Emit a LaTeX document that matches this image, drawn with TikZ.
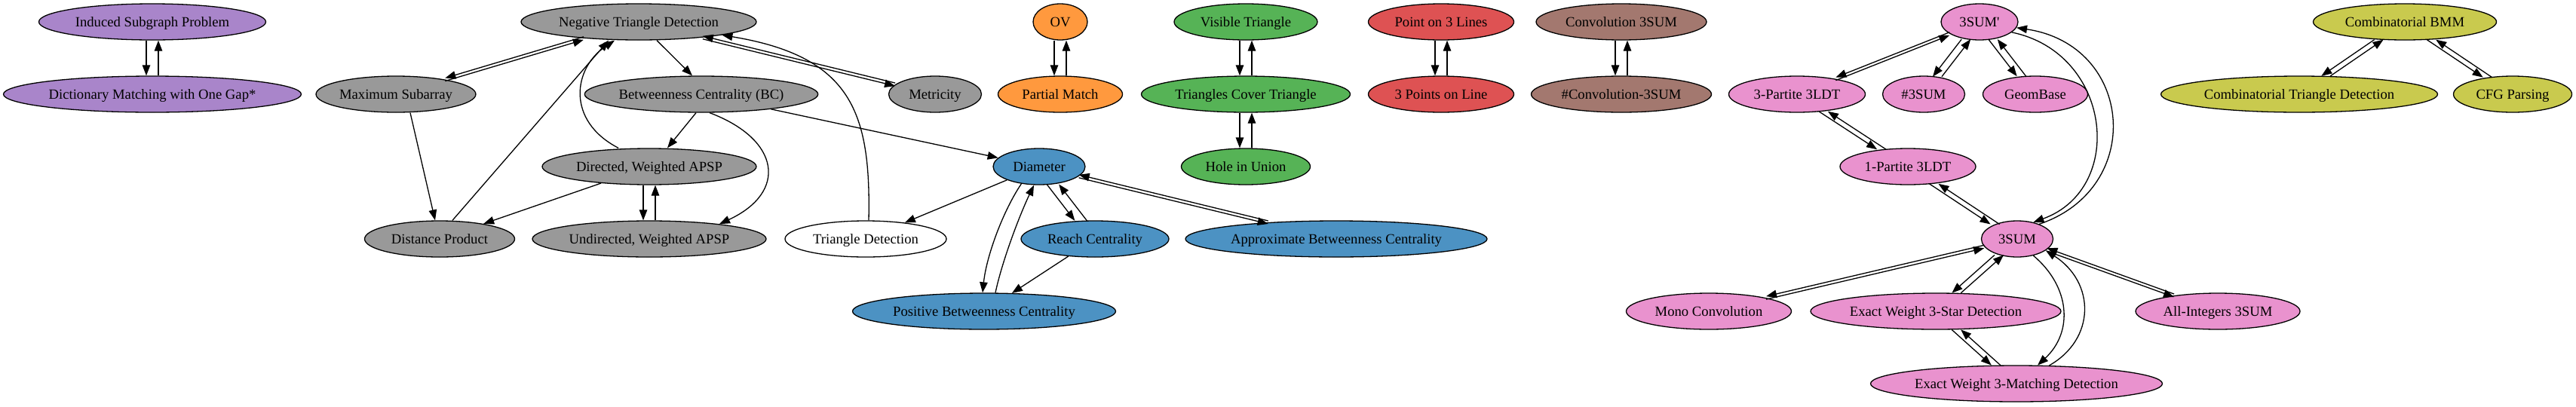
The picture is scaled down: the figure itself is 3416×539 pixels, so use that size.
\documentclass[tikz,border=0pt]{standalone}
\usepackage{fontspec}
\setmainfont{Liberation Serif}
\usetikzlibrary{shapes.geometric,arrows.meta}
\definecolor{cpurple}{RGB}{169,133,202}
\definecolor{cgray}{RGB}{153,153,153}
\definecolor{cblue}{RGB}{76,146,195}
\definecolor{corange}{RGB}{255,153,62}
\definecolor{cgreen}{RGB}{86,179,86}
\definecolor{cred}{RGB}{222,82,83}
\definecolor{cbrown}{RGB}{163,120,111}
\definecolor{cpink}{RGB}{233,146,206}
\definecolor{colive}{RGB}{201,202,78}
\begin{document}
\begin{tikzpicture}[x=1pt,y=-1pt,
 nd/.style={ellipse,draw=black,line width=1.3pt,inner sep=0pt,minimum height=48pt,
   text height=17pt,text depth=4pt,font=\fontsize{18.67pt}{22pt}\selectfont},
 ed/.style={-{Triangle[length=14pt,width=10.5pt]},line width=1.3pt},
 shx/.style={transform canvas={xshift=#1}},
 shy/.style={transform canvas={yshift=#1}}]
\useasboundingbox (0,0) rectangle (3416,539);
% purple
\node[nd,fill=cpurple,minimum width=301pt] (isp) at (202,29) {Induced Subgraph Problem};
\node[nd,fill=cpurple,minimum width=395pt] (dmg) at (202,125) {Dictionary Matching with One Gap*};
% gray
\node[nd,fill=cgray,minimum width=312pt] (ntd) at (847,29) {Negative Triangle Detection};
\node[nd,fill=cgray,minimum width=201pt] (msa) at (525,125) {Maximum Subarray};
\node[nd,fill=cgray,minimum width=288pt] (bc) at (930,125) {Betweenness Centrality (BC)};
\node[nd,fill=cgray,minimum width=123pt] (met) at (1240,125) {Metricity};
\node[nd,fill=cgray,minimum width=284pt] (dwa) at (861,221) {Directed, Weighted APSP};
\node[nd,fill=cgray,minimum width=199pt] (dp) at (583,317) {Distance Product};
\node[nd,fill=cgray,minimum width=310pt] (uwa) at (861,317) {Undirected, Weighted APSP};
\node[nd,fill=white,minimum width=214pt] (td) at (1148,317) {Triangle Detection};
% blue
\node[nd,fill=cblue,minimum width=122pt] (dia) at (1378,221) {Diameter};
\node[nd,fill=cblue,minimum width=196pt] (rc) at (1452,317) {Reach Centrality};
\node[nd,fill=cblue,minimum width=400pt] (abc) at (1772,317) {Approximate Betweenness Centrality};
\node[nd,fill=cblue,minimum width=349pt] (pbc) at (1305,413) {Positive Betweenness Centrality};
% orange, green, red, brown
\node[nd,fill=corange,minimum width=72pt] (ov) at (1406,29) {OV};
\node[nd,fill=corange,minimum width=165pt] (pm) at (1406,125) {Partial Match};
\node[nd,fill=cgreen,minimum width=190pt] (vt) at (1652,29) {Visible Triangle};
\node[nd,fill=cgreen,minimum width=277pt] (tct) at (1652,125) {Triangles Cover Triangle};
\node[nd,fill=cgreen,minimum width=171pt] (hiu) at (1652,221) {Hole in Union};
\node[nd,fill=cred,minimum width=193pt] (ptl) at (1911,29) {Point on 3 Lines};
\node[nd,fill=cred,minimum width=193pt] (tpl) at (1911,125) {3 Points on Line};
\node[nd,fill=cbrown,minimum width=226pt] (cts) at (2150,29) {Convolution 3SUM};
\node[nd,fill=cbrown,minimum width=239pt] (ncts) at (2150,125) {\#Convolution-3SUM};
% pink
\node[nd,fill=cpink,minimum width=102pt] (sp) at (2625,29) {3SUM\textquotesingle};
\node[nd,fill=cpink,minimum width=181pt] (tp) at (2383,125) {3-Partite 3LDT};
\node[nd,fill=cpink,minimum width=109pt] (ns) at (2551,125) {\#3SUM};
\node[nd,fill=cpink,minimum width=139pt] (gb) at (2699,125) {GeomBase};
\node[nd,fill=cpink,minimum width=180pt] (op) at (2530,221) {1-Partite 3LDT};
\node[nd,fill=cpink,minimum width=95pt] (tsum) at (2675,317) {3SUM};
\node[nd,fill=cpink,minimum width=219pt] (mc) at (2266,413) {Mono Convolution};
\node[nd,fill=cpink,minimum width=332pt] (es) at (2567,413) {Exact Weight 3-Star Detection};
\node[nd,fill=cpink,minimum width=218pt] (ai) at (2941,413) {All-Integers 3SUM};
\node[nd,fill=cpink,minimum width=387pt] (em) at (2674,509) {Exact Weight 3-Matching Detection};
% olive
\node[nd,fill=colive,minimum width=243pt] (cb) at (3189,29) {Combinatorial BMM};
\node[nd,fill=colive,minimum width=367pt] (ct) at (3049,125) {Combinatorial Triangle Detection};
\node[nd,fill=colive,minimum width=157pt] (cfg) at (3332,125) {CFG Parsing};

% ---- edges: purple
\draw[ed,shx=-8pt] (isp) -- (dmg);
\draw[ed,shx=8pt] (dmg) -- (isp);
% gray
\draw[ed,shy=2pt] (ntd) -- (msa);
\draw[ed,shy=-2pt] (msa) -- (ntd);
\draw[ed] ([xshift=24pt]ntd.south) -- ([xshift=-12pt]bc.north);
\draw[ed,shy=-2pt] (ntd) -- (met);
\draw[ed,shy=2pt] (met) -- (ntd);
\draw[ed] ([xshift=4pt]td.north) .. controls (1155,150) and (1130,75) .. (ntd.-9);
\draw[ed] ([xshift=19pt]msa.south) -- ([xshift=-6pt]dp.north);
\draw[ed] ([xshift=17pt]dp.north) -- ([xshift=-40pt]ntd.south);
\draw[ed] ([xshift=-41pt]dwa.north) .. controls (750,160) and (760,90) .. ([xshift=-32pt]ntd.south);
\draw[ed] ([xshift=-7pt]bc.south) -- ([xshift=24pt]dwa.north);
\draw[ed] (bc.-66) .. controls (1035,185) and (1045,255) .. (uwa.12);
\draw[ed] (bc) -- (dia);
\draw[ed] (dwa) -- (dp);
\draw[ed,shx=-8pt] (dwa) -- (uwa);
\draw[ed,shx=8pt] (uwa) -- (dwa);
% blue
\draw[ed] (dia) -- (td);
\draw[ed] (dia.-136) .. controls (1330,280) and (1308,340) .. ([xshift=-2pt]pbc.north);
\draw[ed] ([xshift=15pt]pbc.north) .. controls (1328,350) and (1350,290) .. ([xshift=-7pt]dia.south);
\draw[ed] (rc) -- (pbc);
\draw[ed,shx=-8pt] (dia) -- (rc);
\draw[ed,shx=8pt] (rc) -- (dia);
\draw[ed,shy=-2pt] (dia) -- (abc);
\draw[ed,shy=2pt] (abc) -- (dia);
% orange, green, red, brown
\draw[ed,shx=-8pt] (ov) -- (pm);
\draw[ed,shx=8pt] (pm) -- (ov);
\draw[ed,shx=-8pt] (vt) -- (tct);
\draw[ed,shx=8pt] (tct) -- (vt);
\draw[ed,shx=-8pt] (tct) -- (hiu);
\draw[ed,shx=8pt] (hiu) -- (tct);
\draw[ed,shx=-8pt] (ptl) -- (tpl);
\draw[ed,shx=8pt] (tpl) -- (ptl);
\draw[ed,shx=-8pt] (cts) -- (ncts);
\draw[ed,shx=8pt] (ncts) -- (cts);
% pink
\draw[ed,shy=2pt] (sp) -- (tp);
\draw[ed,shy=-2pt] (tp) -- (sp);
\draw[ed,shx=-6pt] (sp) -- (ns);
\draw[ed,shx=6pt] (ns) -- (sp);
\draw[ed,shx=-6pt] (sp) -- (gb);
\draw[ed,shx=6pt] (gb) -- (sp);
\draw[ed] (sp.-18) .. controls (2800,70) and (2820,250) .. (tsum.46);
\draw[ed] (tsum.34) .. controls (2845,250) and (2830,60) .. (sp.-9);
\draw[ed,shx=-6pt] (tp) -- (op);
\draw[ed,shx=6pt] (op) -- (tp);
\draw[ed,shx=-6pt] (op) -- (tsum);
\draw[ed,shx=6pt] (tsum) -- (op);
\draw[ed,shy=2pt] (tsum) -- (mc);
\draw[ed,shy=-2pt] (mc) -- (tsum);
\draw[ed,shx=-6pt] (tsum) -- (es);
\draw[ed,shx=6pt] (es) -- (tsum);
\draw[ed,shy=-2pt] (tsum) -- (ai);
\draw[ed,shy=2pt] (ai) -- (tsum);
\draw[ed] (tsum.-46) .. controls (2745,380) and (2750,440) .. (em.41);
\draw[ed] (em.29) .. controls (2779,450) and (2779,375) .. (tsum.-22);
\draw[ed,shx=-6pt] (es) -- (em);
\draw[ed,shx=6pt] (em) -- (es);
% olive
\draw[ed,shx=-6pt] (cb) -- (ct);
\draw[ed,shx=6pt] (ct) -- (cb);
\draw[ed,shx=-6pt] (cb) -- (cfg);
\draw[ed,shx=6pt] (cfg) -- (cb);
\end{tikzpicture}
\end{document}
